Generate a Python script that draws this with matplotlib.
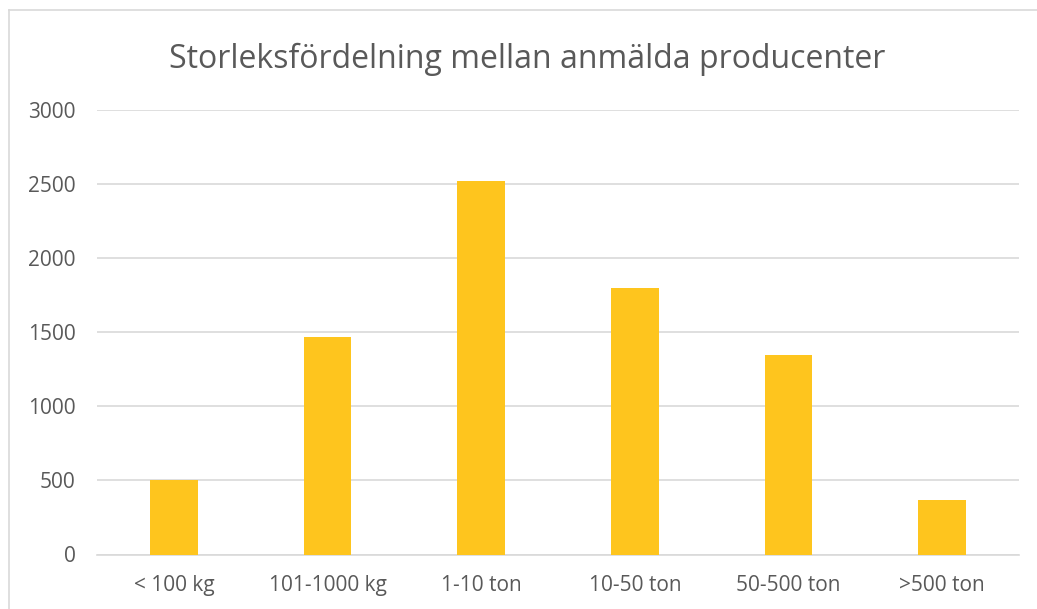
import matplotlib
matplotlib.use("Agg")
import matplotlib.pyplot as plt
from matplotlib.lines import Line2D

categories = ["< 100 kg", "101-1000 kg", "1-10 ton", "10-50 ton", "50-500 ton", ">500 ton"]
values = [500, 1470, 2520, 1800, 1345, 370]
yticks = [0, 500, 1000, 1500, 2000, 2500, 3000]
title = "Storleksfördelning mellan anmälda producenter"

W, H = 1037, 609
fig = plt.figure(figsize=(W / 100, H / 100), dpi=100)
fig.patch.set_facecolor("white")
plt.rcParams['font.family'] = ['Open Sans', 'DejaVu Sans']

ax = fig.add_axes([97 / W, 54.5 / H, (1019 - 97) / W, (554.5 - 109.7) / H])
x = range(len(categories))
ax.bar(x, values, width=0.31, color="#FEC51E", zorder=3)
ax.set_xlim(-0.5, len(categories) - 0.5)
ax.set_ylim(0, 3000)
ax.set_yticks(yticks)
ax.set_yticklabels([str(t) for t in yticks])
ax.set_xticks(list(x))
ax.set_xticklabels(categories)
ax.yaxis.grid(True, color="#D9D9D9", linewidth=1.2, zorder=0)
for s in ["top", "right", "left"]:
    ax.spines[s].set_visible(False)
ax.spines["bottom"].set_color("#D9D9D9")
ax.spines["bottom"].set_linewidth(1.2)
ax.tick_params(axis="both", length=0, labelsize=15, labelcolor="#595959")
ax.tick_params(axis="y", pad=15.5)
ax.tick_params(axis="x", pad=15)

fig.text(527 / W, 1 - 59 / H, title, ha="center", va="center", fontsize=23, color="#595959")

# chart border (left and top visible)
fig.add_artist(Line2D([8.5 / W, 8.5 / W], [0, 1 - 10 / H], color="#D9D9D9", linewidth=1.2, transform=fig.transFigure))
fig.add_artist(Line2D([8.5 / W, 1], [1 - 10 / H, 1 - 10 / H], color="#D9D9D9", linewidth=1.2, transform=fig.transFigure))

fig.savefig("out.png", dpi=100, facecolor="white")
